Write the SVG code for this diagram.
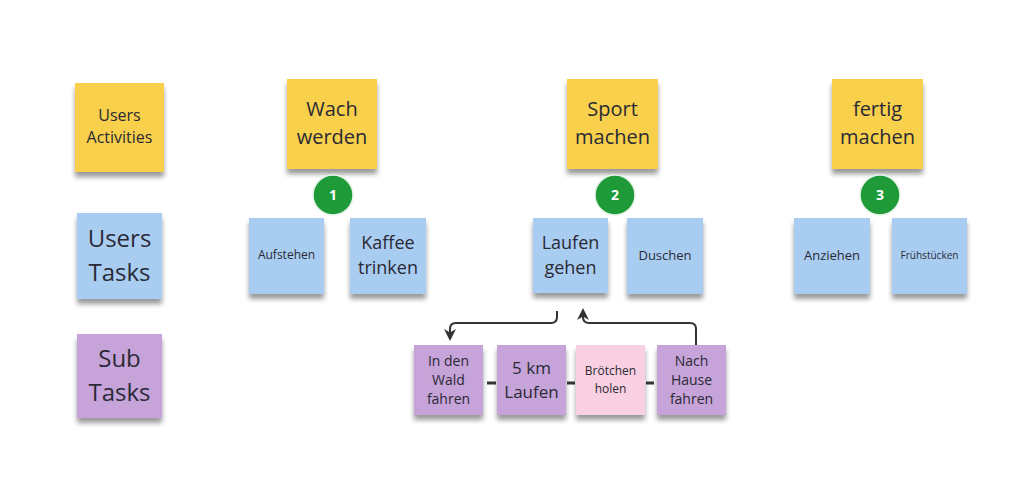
<svg xmlns="http://www.w3.org/2000/svg" width="1024" height="485" viewBox="0 0 1024 485">
<defs>
<filter id="sh" x="-20%" y="-20%" width="140%" height="150%">
<feGaussianBlur in="SourceAlpha" stdDeviation="2.5"/>
<feOffset dx="0" dy="5" result="b"/>
<feComponentTransfer><feFuncA type="linear" slope="0.4"/></feComponentTransfer>
<feMerge><feMergeNode/><feMergeNode in="SourceGraphic"/></feMerge>
</filter>
<marker id="ah" viewBox="0 0 10 10" refX="5" refY="5" markerWidth="6" markerHeight="6" orient="auto-start-reverse">
<path d="M0,0 L10,5 L0,10 L3,5 z" fill="#333"/>
</marker>
</defs>
<style>
.y{fill:#F8D04C}
.b{fill:#A9CDF1}
.p{fill:#C6A3D8}
.k{fill:#F9D0E2}
.n{filter:url(#sh)}
text{font-family:"Open Sans","Noto Sans","Liberation Sans",sans-serif;fill:#2a2a36;text-anchor:middle}
.c{fill:#1E9A38;stroke:#E6F3E8;stroke-width:1.5}
.cn{fill:#fff;font-weight:bold;font-size:14px}
.ln{fill:none;stroke:#333;stroke-width:2}
.ds{fill:none;stroke:#333;stroke-width:3}
</style>
<rect width="1024" height="485" fill="#fff"/>

<g id="users-activities"><rect class="y n" x="75" y="83" width="89" height="89"/><text font-size="16"><tspan x="119.5" y="121">Users</tspan><tspan x="119.5" y="143">Activities</tspan></text></g>
<g id="users-tasks"><rect class="b n" x="77" y="213" width="85" height="86"/><text font-size="24"><tspan x="119.5" y="247">Users</tspan><tspan x="119.5" y="281">Tasks</tspan></text></g>
<g id="sub-tasks"><rect class="p n" x="77" y="334" width="85" height="84"/><text font-size="24"><tspan x="119.5" y="367">Sub</tspan><tspan x="119.5" y="401">Tasks</tspan></text></g>

<g id="wach-werden"><rect class="y n" x="287" y="79" width="90" height="90"/><text font-size="20"><tspan x="332" y="116">Wach</tspan><tspan x="332" y="144">werden</tspan></text></g>
<g id="badge-1"><circle class="c" cx="333" cy="195" r="20"/><text class="cn" x="333" y="200">1</text></g>
<g id="aufstehen"><rect class="b n" x="249" y="218" width="75" height="76"/><text font-size="12" x="286.5" y="259">Aufstehen</text></g>
<g id="kaffee-trinken"><rect class="b n" x="350" y="218" width="76" height="76"/><text font-size="18"><tspan x="388" y="249">Kaffee</tspan><tspan x="388" y="274">trinken</tspan></text></g>

<g id="sport-machen"><rect class="y n" x="567" y="79" width="91" height="90"/><text font-size="20"><tspan x="612.5" y="116">Sport</tspan><tspan x="612.5" y="144">machen</tspan></text></g>
<g id="badge-2"><circle class="c" cx="615" cy="195" r="20"/><text class="cn" x="615" y="200">2</text></g>
<g id="laufen-gehen"><rect class="b n" x="533" y="218" width="75" height="75"/><text font-size="18"><tspan x="570.5" y="249">Laufen</tspan><tspan x="570.5" y="274">gehen</tspan></text></g>
<g id="duschen"><rect class="b n" x="627" y="218" width="76" height="76"/><text font-size="13" x="665" y="260">Duschen</text></g>

<g id="fertig-machen"><rect class="y n" x="832" y="79" width="91" height="90"/><text font-size="20"><tspan x="877.5" y="116">fertig</tspan><tspan x="877.5" y="144">machen</tspan></text></g>
<g id="badge-3"><circle class="c" cx="880" cy="195" r="20"/><text class="cn" x="880" y="200">3</text></g>
<g id="anziehen"><rect class="b n" x="794" y="218" width="76" height="76"/><text font-size="13" x="832" y="260">Anziehen</text></g>
<g id="fruehstuecken"><rect class="b n" x="892" y="218" width="75" height="76"/><text font-size="10" x="929.5" y="259">Frühstücken</text></g>

<g id="in-den-wald"><rect class="p n" x="414" y="345" width="69" height="70"/><text font-size="14"><tspan x="448.5" y="366">In den</tspan><tspan x="448.5" y="385">Wald</tspan><tspan x="448.5" y="404">fahren</tspan></text></g>
<g id="5km-laufen"><rect class="p n" x="497" y="345" width="69" height="70"/><text font-size="17"><tspan x="531.5" y="374">5 km</tspan><tspan x="531.5" y="398">Laufen</tspan></text></g>
<g id="broetchen-holen"><rect class="k n" x="576" y="345" width="69" height="70"/><text font-size="12"><tspan x="610.5" y="375">Brötchen</tspan><tspan x="610.5" y="393">holen</tspan></text></g>
<g id="nach-hause"><rect class="p n" x="657" y="345" width="69" height="70"/><text font-size="14"><tspan x="691.5" y="366">Nach</tspan><tspan x="691.5" y="385">Hause</tspan><tspan x="691.5" y="404">fahren</tspan></text></g>

<g id="connectors">
<path class="ln" d="M557,311 V317 Q557,323 551,323 H456 Q450,323 450,329 V335" marker-end="url(#ah)"/>
<path class="ln" d="M696,345 V329 Q696,323 690,323 H589 Q583,323 583,317 V314" marker-end="url(#ah)"/>
<path class="ds" d="M487,383 H496 M567,383 H575 M646,383 H654"/>
</g>
</svg>
